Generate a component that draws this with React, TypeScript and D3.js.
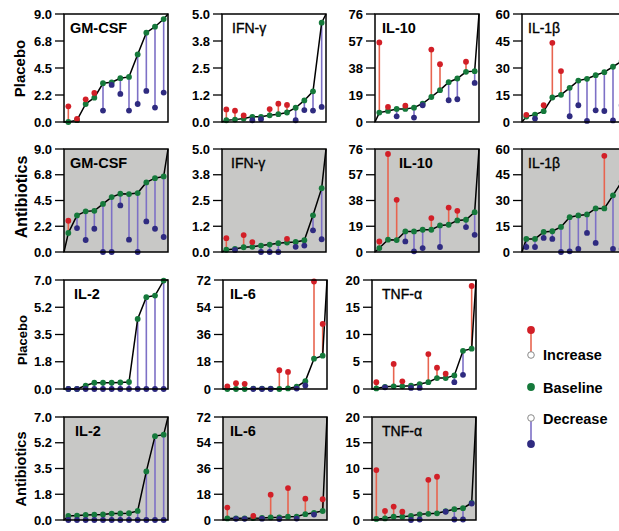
import React from 'react';
import * as d3 from 'd3';

// ---- data: 12 subjects per panel, sorted by baseline ----
const gmcsfPlaceboBase = [0.0, 0.15, 1.5, 2.03, 3.23, 3.31, 3.65, 3.76, 5.63, 7.44, 7.94, 8.58];
const gmcsfPlaceboPost = [1.31, 0.25, 1.89, 2.42, 0.95, 3.09, 2.34, 0.95, 1.5, 2.59, 1.2, 2.45];
const ifngPlaceboBase = [0.08, 0.11, 0.16, 0.24, 0.24, 0.31, 0.36, 0.44, 0.66, 1.0, 1.42, 4.6];
const ifngPlaceboPost = [0.58, 0.52, 0.3, 0.08, 0.13, 0.6, 0.85, 0.79, 0.08, 0.55, 0.53, 0.7];
const il10PlaceboBase = [6.6, 7.8, 9.2, 9.2, 10.1, 13, 17.6, 22.4, 28, 30.6, 35.3, 35.8];
const il10PlaceboPost = [56, 10.6, 4.0, 11.5, 3.1, 11.8, 51, 40.7, 15.3, 16, 42.4, 27.5];
const il1bPlaceboBase = [3.0, 4.1, 6.0, 13.6, 15.1, 19.0, 23.0, 24.0, 26.0, 27.7, 30.7, 33.8];
const il1bPlaceboPost = [4.0, 1.9, 9.3, 44, 28.3, 3.2, 9.3, 0.6, 6.5, 6.1, 0.9, 9.3];

const gmcsfAbxBase = [1.66, 3.2, 3.55, 3.6, 4.2, 4.8, 5.09, 5.06, 5.15, 6.08, 6.45, 6.6];
const gmcsfAbxPost = [2.73, 2.09, 1.05, 2.03, 0, 0, 4.07, 1.08, 0, 2.67, 2.03, 1.31];
const ifngAbxBase = [0.11, 0.15, 0.23, 0.25, 0.31, 0.36, 0.43, 0.46, 0.49, 0.57, 1.78, 3.1];
const ifngAbxPost = [0.67, 0.1, 0.82, 0.48, 0, 0, 0, 0.64, 0.25, 0.31, 1.05, 0.62];
const il10AbxBase = [2.9, 9.1, 8.8, 15.2, 15.2, 16.4, 16.4, 19.6, 20.1, 23.3, 23.8, 29.4];
const il10AbxPost = [7.8, 72.3, 38.5, 7.8, 0.5, 2.9, 25, 3.7, 32.8, 30.4, 18.4, 12.7];
const il1bAbxBase = [7.6, 7.6, 11.7, 12.1, 14.6, 20.3, 21.3, 21.9, 25.4, 25.4, 33.0, 41];
const il1bAbxPost = [2.9, 2.9, 8.2, 7.6, 0, 0.4, 1.8, 11.1, 5.3, 56, 1.8, 1.8];

const il2PlaceboBase = [0, 0, 0.22, 0.4, 0.4, 0.4, 0.42, 0.45, 4.5, 5.9, 6.0, 6.96];
const il2PlaceboPost = [0, 0, 0, 0, 0, 0, 0, 0, 0, 0, 0, 0];
const il6PlaceboBase = [0, 0, 0, 0.3, 0.3, 0.3, 0, 0.4, 1.5, 5.2, 20, 22];
const il6PlaceboPost = [1.8, 3.8, 3.4, 0, 0, 0, 12.4, 11.3, 0.3, 2.3, 71, 43];
const tnfPlaceboBase = [0.1, 0.4, 0.5, 0.5, 0.6, 0.9, 1.25, 2.0, 2.0, 2.5, 7.0, 7.4];
const tnfPlaceboPost = [1.25, 0.3, 4.6, 1.4, 0.2, 0.2, 6.4, 3.9, 2.8, 1.25, 2.6, 18.9];

const il2AbxBase = [0.28, 0.3, 0.34, 0.36, 0.38, 0.44, 0.45, 0.46, 0.62, 3.3, 5.7, 5.8];
const il2AbxPost = [0, 0, 0, 0, 0, 0, 0, 0, 0, 0, 0, 0];
const il6AbxBase = [1.1, 1.2, 1.2, 1.3, 1.4, 1.8, 1.9, 2.3, 2.4, 4.1, 5.0, 6.3];
const il6AbxPost = [8.7, 0.8, 0.8, 2.8, 0.9, 17.7, 0.7, 22.3, 1.0, 14.9, 3.8, 14.5];
const tnfAbxBase = [0.2, 0.3, 0.65, 0.65, 0.8, 1.1, 1.2, 1.3, 1.7, 2.1, 2.3, 3.3];
const tnfAbxPost = [9.7, 1.75, 2.6, 1.6, 0, 0.1, 7.8, 8.4, 1.6, 0.1, 0.1, 3.2];

// tick labels per cytokine (ticks at quarters of the max)
const gmcsfTicks = ['0.0', '2.2', '4.5', '6.8', '9.0'];
const ifngTicks = ['0.0', '1.2', '2.5', '3.8', '5.0'];
const il10Ticks = ['0', '19', '38', '57', '76'];
const il1bTicks = ['0', '15', '30', '45', '60'];
const il2Ticks = ['0.0', '1.8', '3.5', '5.2', '7.0'];
const il6Ticks = ['0', '18', '36', '54', '72'];
const tnfTicks = ['0', '5', '10', '15', '20'];

const rowLabels = ['Placebo', 'Antibiotics', 'Placebo', 'Antibiotics'];

// ---- layout ----
const W = 619, H = 531;
const rowTop = [14, 149, 280, 417];
const rowH = [108, 103, 109, 103];
const colLeftUpper = [64, 222, 375, 522];
const colLeftLower = [64, 223, 372];
const panelW = 104;

const RED = '#d21f27', RED_STEM = '#e8644f';
const GREEN = '#15793b';
const BLUE = '#2f2b80', BLUE_STEM = '#7d70c6';
const GRAY = '#c8c8c6';
const FONT = 'Arial, "Liberation Sans", Helvetica, sans-serif';

type Panel = {
  title: string; ticks: string[]; base: number[]; post: number[];
  row: number; col: number; bold: boolean; titleDx: number;
};

const panels: Panel[] = [
  { title: 'GM-CSF', ticks: gmcsfTicks, base: gmcsfPlaceboBase, post: gmcsfPlaceboPost, row: 0, col: 0, bold: true, titleDx: 6 },
  { title: 'IFN-γ', ticks: ifngTicks, base: ifngPlaceboBase, post: ifngPlaceboPost, row: 0, col: 1, bold: false, titleDx: 10 },
  { title: 'IL-10', ticks: il10Ticks, base: il10PlaceboBase, post: il10PlaceboPost, row: 0, col: 2, bold: true, titleDx: 7 },
  { title: 'IL-1β', ticks: il1bTicks, base: il1bPlaceboBase, post: il1bPlaceboPost, row: 0, col: 3, bold: false, titleDx: 6 },
  { title: 'GM-CSF', ticks: gmcsfTicks, base: gmcsfAbxBase, post: gmcsfAbxPost, row: 1, col: 0, bold: true, titleDx: 6 },
  { title: 'IFN-γ', ticks: ifngTicks, base: ifngAbxBase, post: ifngAbxPost, row: 1, col: 1, bold: false, titleDx: 9 },
  { title: 'IL-10', ticks: il10Ticks, base: il10AbxBase, post: il10AbxPost, row: 1, col: 2, bold: true, titleDx: 24 },
  { title: 'IL-1β', ticks: il1bTicks, base: il1bAbxBase, post: il1bAbxPost, row: 1, col: 3, bold: false, titleDx: 6 },
  { title: 'IL-2', ticks: il2Ticks, base: il2PlaceboBase, post: il2PlaceboPost, row: 2, col: 0, bold: true, titleDx: 10 },
  { title: 'IL-6', ticks: il6Ticks, base: il6PlaceboBase, post: il6PlaceboPost, row: 2, col: 1, bold: true, titleDx: 7 },
  { title: 'TNF-α', ticks: tnfTicks, base: tnfPlaceboBase, post: tnfPlaceboPost, row: 2, col: 2, bold: false, titleDx: 10 },
  { title: 'IL-2', ticks: il2Ticks, base: il2AbxBase, post: il2AbxPost, row: 3, col: 0, bold: true, titleDx: 11 },
  { title: 'IL-6', ticks: il6Ticks, base: il6AbxBase, post: il6AbxPost, row: 3, col: 1, bold: true, titleDx: 7 },
  { title: 'TNF-α', ticks: tnfTicks, base: tnfAbxBase, post: tnfAbxPost, row: 3, col: 2, bold: false, titleDx: 10 },
];

function PanelChart({ p }: { p: Panel }) {
  const left = (p.row < 2 ? colLeftUpper : colLeftLower)[p.col];
  const top = rowTop[p.row];
  const h = rowH[p.row];
  const max = +p.ticks[p.ticks.length - 1];
  const y = d3.scaleLinear().domain([0, max]).range([top + h, top]);
  const x = d3.scaleBand<number>().domain(d3.range(p.base.length)).range([left, left + panelW]);
  const cx = (i: number) => (x(i) as number) + x.bandwidth() / 2;

  const linePts: [number, number][] = [
    [left, y(0)],
    ...p.base.map((v, i) => [cx(i), y(v)] as [number, number]),
    [left + panelW, y(max)],
  ];
  const line = d3.line()(linePts) as string;
  const fill = p.row % 2 === 1 ? GRAY : '#fff';

  return (
    <g>
      <rect x={left} y={top} width={panelW} height={h} fill={fill} />
      {p.ticks.map((t, i) => {
        const ty = y((max * i) / 4);
        return (
          <g key={t}>
            <line x1={left - 9} x2={left} y1={ty} y2={ty} stroke="#000" strokeWidth={1.3} />
            <text x={left - 12} y={ty} dy="0.35em" textAnchor="end" fontSize={13} fontWeight="bold" fontFamily={FONT}>{t}</text>
          </g>
        );
      })}
      {p.base.map((b, i) => {
        const up = p.post[i] > b;
        return <line key={'s' + i} x1={cx(i)} x2={cx(i)} y1={y(b)} y2={y(p.post[i])}
          stroke={up ? RED_STEM : BLUE_STEM} strokeWidth={1.6} />;
      })}
      <path d={line} fill="none" stroke="#000" strokeWidth={1.5} />
      {p.base.map((b, i) => (
        <circle key={'b' + i} cx={cx(i)} cy={y(b)} r={2.9} fill={GREEN} />
      ))}
      {p.post.map((v, i) => (
        <circle key={'p' + i} cx={cx(i)} cy={y(v)} r={2.9} fill={v > p.base[i] ? RED : BLUE} />
      ))}
      <rect x={left} y={top} width={panelW} height={h} fill="none" stroke="#000" strokeWidth={1.5} />
      <text x={left + p.titleDx} y={top + 19} fontSize={p.bold ? 14.5 : 14} fontWeight={p.bold ? 'bold' : 'normal'}
        stroke={p.bold ? 'none' : '#000'} strokeWidth={p.bold ? 0 : 0.35} fontFamily={FONT}>{p.title}</text>
    </g>
  );
}

export default function App() {
  const labelSize = [15, 16, 13, 14.5];
  const labelX = [25, 27, 27, 26];
  const labelY = [68.5, 197, 340, 469];
  return (
    <svg width={W} height={H} style={{ position: 'absolute', left: 0, top: 0, background: '#fff' }}>
      <rect width={W} height={H} fill="#fff" />
      {rowLabels.map((l, i) => (
        <text key={i} transform={`translate(${labelX[i]},${labelY[i]}) rotate(-90)`} textAnchor="middle"
          fontSize={labelSize[i]} fontWeight="bold" fontFamily={FONT}>{l}</text>
      ))}
      {panels.map((p, i) => <PanelChart key={i} p={p} />)}
      {/* legend */}
      <g fontFamily={FONT} fontSize={14.5} fontWeight="bold">
        <line x1={531} x2={531} y1={330} y2={355} stroke={RED_STEM} strokeWidth={1.6} />
        <circle cx={531} cy={330} r={3.9} fill={RED} />
        <circle cx={531} cy={355} r={3.3} fill="#fff" stroke="#8a8a8a" strokeWidth={1} />
        <text x={543} y={360}>Increase</text>
        <circle cx={531} cy={387} r={3.9} fill={GREEN} />
        <text x={543} y={392.5}>Baseline</text>
        <line x1={531} x2={531} y1={418} y2={444} stroke={BLUE_STEM} strokeWidth={1.6} />
        <circle cx={531} cy={418} r={3.3} fill="#fff" stroke="#8a8a8a" strokeWidth={1} />
        <circle cx={531} cy={444} r={3.9} fill={BLUE} />
        <text x={543} y={423.5}>Decrease</text>
      </g>
    </svg>
  );
}
